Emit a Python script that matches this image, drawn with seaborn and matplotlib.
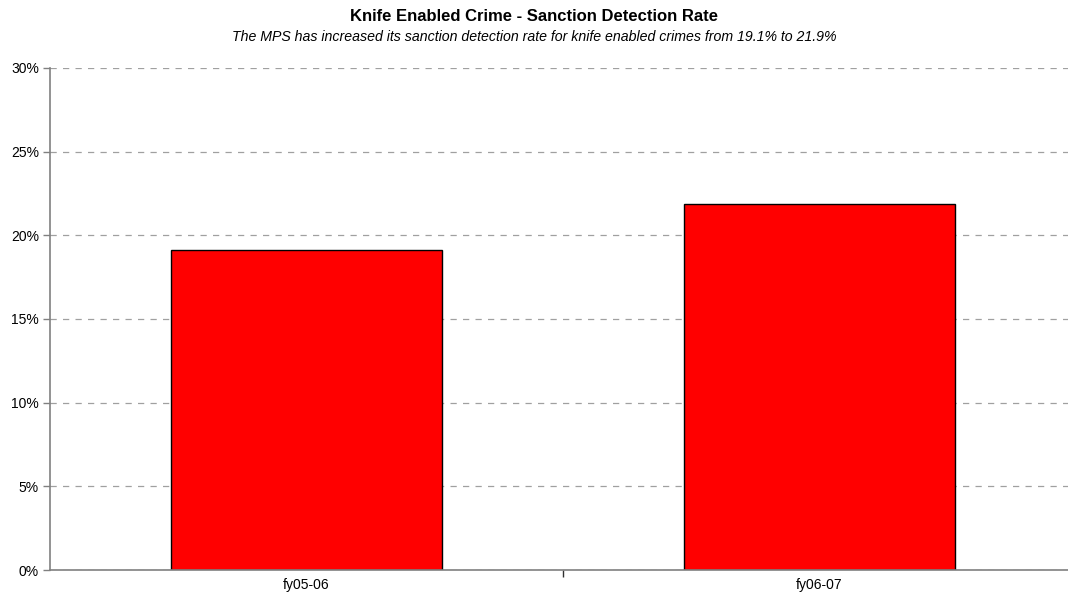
import pandas as pd
import numpy as np
import seaborn as sns
import matplotlib.pyplot as plt
from matplotlib.ticker import PercentFormatter, FixedLocator

# .:: Data ::.
years = ["fy05-06", "fy06-07"]
rates = [19.1, 21.9]
y_ticks = [0, 5, 10, 15, 20, 25, 30]

df = pd.DataFrame({"year": years, "rate": rates})

# .:: Style ::.
sns.set_style("white")
plt.rcParams["font.family"] = ["Liberation Sans", "DejaVu Sans"]
plt.rcParams["text.color"] = "black"
plt.rcParams["xtick.color"] = "black"
plt.rcParams["ytick.color"] = "black"

fig = plt.figure(figsize=(10.68, 5.96), dpi=100)
# plot area runs slightly past the right edge, as in the reference
ax = fig.add_axes([0.0468, 0.0436, 0.9607, 0.8424])

sns.barplot(data=df, x="year", y="rate", color="#ff0000", width=0.528,
            edgecolor="black", linewidth=1, saturation=1, ax=ax)

# .:: Axes ::.
ax.set_xlim(-0.5, 1.5)
ax.set_ylim(0, 30)
ax.set_yticks(y_ticks)
ax.yaxis.set_major_formatter(PercentFormatter(decimals=0))
ax.xaxis.set_minor_locator(FixedLocator([0.5, 1.5]))
ax.tick_params(axis="x", which="major", bottom=True, length=0, pad=6, labelsize=10,
               labelcolor="black")
ax.tick_params(axis="x", which="minor", bottom=True, length=5, direction="out",
               color="#303030", width=1)
ax.tick_params(axis="y", left=True, length=5, direction="out", color="#808080",
               width=1, labelsize=10, pad=3, labelcolor="black")
ax.set_xlabel("")
ax.set_ylabel("")

for s in ["top", "right"]:
    ax.spines[s].set_visible(False)
for s in ["left", "bottom"]:
    ax.spines[s].set_color("#808080")
    ax.spines[s].set_linewidth(1.2)

ax.grid(axis="y", linestyle=(0, (5, 5)), color="#a0a0a0", linewidth=0.9)
ax.set_axisbelow(True)

# .:: Titles ::.
fig.text(0.5, 0.9715, "Knife Enabled Crime - Sanction Detection Rate",
         ha="center", va="center", fontsize=12, fontweight="bold", color="black")
fig.text(0.5, 0.938,
         "The MPS has increased its sanction detection rate for knife enabled crimes from 19.1% to 21.9%",
         ha="center", va="center", fontsize=10.2, style="italic", color="black")

plt.savefig("out.png", dpi=100)
